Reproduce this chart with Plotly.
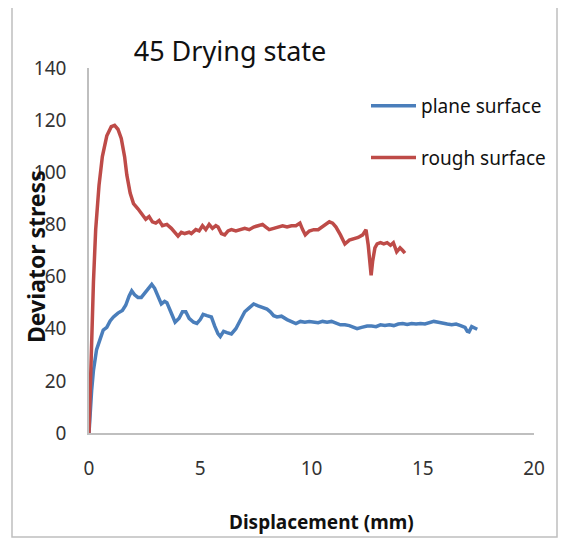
import plotly.graph_objects as go

# ---- data ----
rough_x = [0, 0.1, 0.2, 0.3, 0.45, 0.6, 0.8, 1.0, 1.15, 1.3, 1.45, 1.6, 1.7, 1.85, 2.0, 2.2, 2.4, 2.55,
           2.7, 2.85, 3.0, 3.15, 3.3, 3.5, 3.7, 3.9, 4.0, 4.15, 4.3, 4.5, 4.6, 4.8, 4.95, 5.1, 5.25, 5.4,
           5.55, 5.7, 5.8, 5.95, 6.1, 6.25, 6.4, 6.6, 6.8, 7.0, 7.2, 7.4, 7.6, 7.8, 7.95, 8.1, 8.3, 8.5,
           8.7, 8.9, 9.1, 9.3, 9.48, 9.6, 9.72, 9.9, 10.1, 10.3, 10.45, 10.6, 10.8, 10.95, 11.1, 11.3,
           11.5, 11.7, 11.9, 12.1, 12.3, 12.45, 12.55, 12.63, 12.68, 12.75, 12.85, 12.95, 13.1, 13.25,
           13.4, 13.55, 13.68, 13.83, 13.98, 14.1, 14.2]
rough_y = [0, 30, 58, 78, 95, 106, 114, 117.5, 118, 116.5, 113, 106, 99, 92, 88, 86, 84, 82,
           83, 81, 80.5, 81.5, 79.5, 80, 78.5, 76.5, 75.5, 77, 76.5, 77, 76.5, 78, 77.5, 79.5, 78, 80,
           78.5, 79.5, 79, 76.5, 76, 77.5, 78, 77.5, 78, 78.5, 78, 79, 79.5, 80, 79, 78, 78.5, 79,
           79.5, 79, 79.5, 79.5, 80.5, 78, 76, 77.5, 78, 78, 79, 80, 81, 80.5, 79, 76,
           72.5, 74, 74.5, 75, 76, 78, 72, 62, 60.5, 66, 71, 72.5, 73, 72.5,
           73, 72, 73, 69.5, 71, 70, 69]

plane_x = [0, 0.05, 0.12, 0.2, 0.34, 0.5, 0.64, 0.8, 0.95, 1.1, 1.3, 1.5, 1.65, 1.8, 1.92, 2.05, 2.2,
           2.35, 2.5, 2.65, 2.82, 2.95, 3.1, 3.25, 3.4, 3.5, 3.65, 3.87, 4.05, 4.2, 4.35, 4.5, 4.7, 4.85,
           5.0, 5.13, 5.3, 5.5, 5.65, 5.8, 5.9, 6.05, 6.2, 6.4, 6.6, 6.8, 7.0, 7.2, 7.4, 7.6, 7.8, 8.0,
           8.15, 8.3, 8.45, 8.65, 8.9, 9.1, 9.3, 9.5, 9.7, 9.9, 10.1, 10.3, 10.5, 10.7, 10.9, 11.1, 11.3,
           11.5, 11.7, 11.9, 12.05, 12.25, 12.5, 12.7, 12.9, 13.1, 13.3, 13.5, 13.7, 13.9, 14.1, 14.3,
           14.5, 14.7, 14.9, 15.1, 15.3, 15.5, 15.7, 15.9, 16.1, 16.3, 16.5, 16.7, 16.9, 17.0, 17.08,
           17.2, 17.3, 17.45]
plane_y = [0, 10, 16.5, 24, 32, 36, 39.5, 40.5, 43, 44.5, 46, 47, 49, 52.5, 54.5, 53, 52,
           52, 53.5, 55.5, 57, 55.5, 52.5, 49.5, 50.5, 50, 47, 42.5, 44, 46.5, 46.5, 44, 42.5, 42,
           43.5, 45.5, 45, 44.5, 41, 38, 37, 39, 38.5, 38, 40, 43.5, 46.5, 48, 49.5, 48.8, 48.2, 47.5,
           46.5, 45, 44.5, 44.8, 43.5, 42.8, 42, 42.8, 42.5, 42.8, 42.5, 42.3, 42.8, 42.5, 42.8, 42, 41.5,
           41.5, 41.2, 40.5, 40, 40.5, 41, 41, 40.8, 41.5, 41.2, 41.5, 41.2, 41.8, 42, 41.6,
           42, 41.8, 42, 41.8, 42.2, 42.8, 42.5, 42, 41.8, 41.5, 41.8, 41.2, 40.5, 39, 38.8,
           40.8, 40.5, 39.8]

x_ticks = [0, 5, 10, 15, 20]
y_ticks = [0, 20, 40, 60, 80, 100, 120, 140]

series_names = ["plane surface", "rough surface"]
series_colors = ["#4A7EBB", "#BE4B48"]

FONT = "Noto Sans"

fig = go.Figure()
fig.add_trace(go.Scatter(x=plane_x, y=plane_y, mode="lines", name=series_names[0],
                         legendgroup="a", line=dict(color=series_colors[0], width=3.5)))
fig.add_trace(go.Scatter(x=rough_x, y=rough_y, mode="lines", name=series_names[1],
                         legendgroup="b", line=dict(color=series_colors[1], width=3.5)))

# page offset: the html body has an 8px margin
OFF = 8
W, H = 569 - OFF, 560 - OFF
PX0, PX1, PY0, PY1 = 89, 534, 68, 433          # plot area in page pixels
L, T = PX0 - OFF, PY0 - OFF
R, B = W - (PX1 - OFF), H - (PY1 - OFF)
pw, ph = PX1 - PX0, PY1 - PY0


def px_x(p):
    return (p - PX0) / pw


def px_y(p):
    return (PY1 - p) / ph


fig.update_layout(
    width=W, height=H,
    margin=dict(l=L, r=R, t=T, b=B, autoexpand=False),
    paper_bgcolor="white", plot_bgcolor="white",
    font=dict(family=FONT, color="#333333", size=19),
    title=dict(text="45 Drying state", font=dict(family=FONT, size=27, color="#111111"),
               x=(230 - OFF) / W, xanchor="center", y=1 - (52 - OFF) / H, yanchor="middle"),
    xaxis=dict(range=[0, 20], tickvals=x_ticks, showgrid=False, zeroline=False,
               showline=True, linecolor="#BFBFBF", linewidth=1.5, ticks="",
               ticklabelstandoff=17, tickfont=dict(size=19, color="#333333")),
    yaxis=dict(range=[0, 140], tickvals=y_ticks, showgrid=False, zeroline=False,
               showline=True, linecolor="#BFBFBF", linewidth=1.5, ticks="",
               ticklabelstandoff=17, tickfont=dict(size=19, color="#333333")),
    legend=dict(x=px_x(366), y=px_y(87), xanchor="left", yanchor="top",
                font=dict(size=19, color="#111111"), itemwidth=45,
                traceorder="grouped", tracegroupgap=24, bgcolor="rgba(0,0,0,0)"),
    showlegend=True,
)

fig.add_annotation(text="<b>Displacement (mm)</b>", xref="paper", yref="paper",
                   x=px_x(321), y=px_y(522), showarrow=False,
                   font=dict(family=FONT, size=19, color="#111111"),
                   xanchor="center", yanchor="middle")
fig.add_annotation(text="<b>Deviator stress</b>", xref="paper", yref="paper",
                   x=px_x(36), y=px_y(257), showarrow=False, textangle=-90,
                   font=dict(family=FONT, size=23, color="#111111"),
                   xanchor="center", yanchor="middle")

fig.add_shape(type="rect", xref="paper", yref="paper",
              x0=px_x(12), x1=px_x(557), y0=px_y(537), y1=px_y(7),
              line=dict(color="#BFBFBF", width=1.5), fillcolor="rgba(0,0,0,0)", layer="below")

fig.write_html("out.html")
